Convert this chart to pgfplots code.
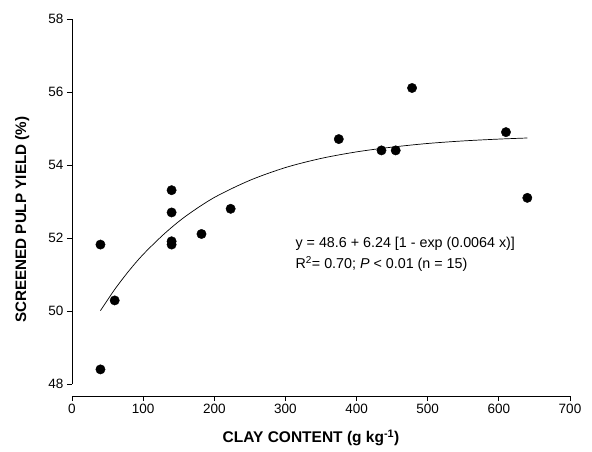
\documentclass[border=0pt]{standalone}
\usepackage{fontspec}
\setmainfont{Liberation Sans}
\usepackage{pgfplots}
\pgfplotsset{compat=1.18}
\begin{document}
\begin{tikzpicture}
\path[use as bounding box] (-72pt,-67pt) rectangle (520pt,384pt);
\begin{axis}[
  scale only axis,
  width=498pt, height=365pt,
  xmin=0, xmax=700, ymin=48, ymax=58,
  axis lines=left,
  axis line style={-, line width=0.8pt},
  axis x line shift=12pt,
  xtick={0,100,...,700},
  ytick={48,50,...,58},
  tick align=outside,
  major tick length=5pt,
  tick style={line width=0.8pt, black},
  /pgf/number format/assume math mode=true,
  ticklabel style={font=\fontsize{13.5}{15}\selectfont},
  xlabel={\textbf{CLAY CONTENT (g kg\textsuperscript{-1})}},
  ylabel={\textbf{SCREENED PULP YIELD (\%)}},
  xlabel style={font=\fontsize{15.5}{18}\selectfont, at={(axis description cs:0.48,-0.148)}, anchor=center},
  ylabel style={font=\fontsize{15.2}{17}\selectfont, at={(axis description cs:-0.10,0.45)}, anchor=center},
  clip=false,
]
\addplot[only marks, mark=*, mark size=4.7pt, black] coordinates {
 (40,51.82) (40,48.40) (60,50.29)
 (140,53.31) (140,52.70) (140,51.91) (140,51.82)
 (182,52.11) (223,52.80)
 (375,54.71) (435,54.40) (455,54.40) (478,56.11)
 (610,54.90) (640,53.10)
};
\addplot[black, line width=0.7pt, smooth] coordinates {
 (40,50.01) (60,50.59) (80,51.10) (100,51.55) (130,52.12) (160,52.60)
 (200,53.11) (250,53.58) (300,53.93) (350,54.18) (400,54.36) (450,54.49)
 (500,54.59) (550,54.66) (600,54.71) (640,54.74)
};
\node[anchor=west, align=left, font=\fontsize{14.3}{21}\selectfont, inner sep=0pt] at (axis cs:314,51.56)
 {y = 48.6 + 6.24 [1 - exp (0.0064 x)]\\R\textsuperscript{2}= 0.70; \textit{P} < 0.01 (n = 15)};
\end{axis}
\end{tikzpicture}
\end{document}
